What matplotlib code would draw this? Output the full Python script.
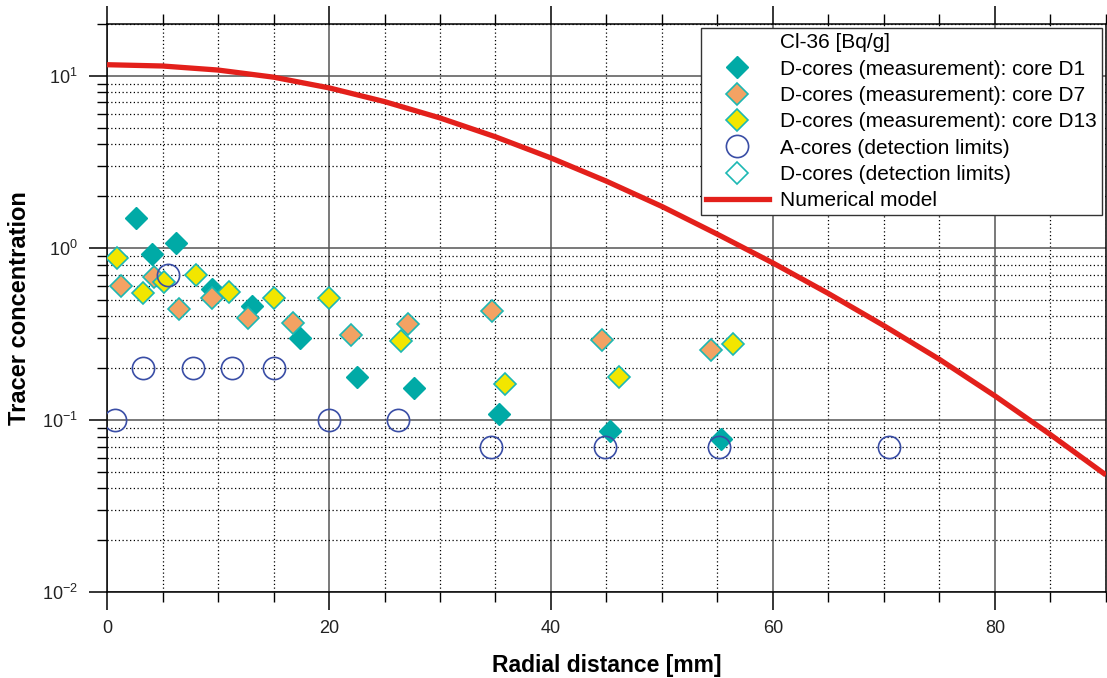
import numpy as np
import matplotlib
matplotlib.use("Agg")
import matplotlib.pyplot as plt
from matplotlib.lines import Line2D
from matplotlib.ticker import LogLocator, MultipleLocator, NullFormatter

plt.rcParams["font.family"] = ["Liberation Sans", "DejaVu Sans"]
plt.rcParams["mathtext.fontset"] = "custom"
plt.rcParams["mathtext.rm"] = "Liberation Sans"
plt.rcParams["mathtext.it"] = "Liberation Sans:italic"
plt.rcParams["mathtext.bf"] = "Liberation Sans:bold"

# core D1 measurements
d1_x = [2.6, 4.05, 6.2, 9.5, 13.1, 17.4, 22.5, 27.7, 35.3, 45.3, 55.3]
d1_y = [1.49, 0.92, 1.07, 0.578, 0.46, 0.30, 0.178, 0.154, 0.108, 0.086, 0.077]

# core D7 measurements
d7_x = [1.26, 4.2, 6.5, 9.5, 12.7, 16.8, 22.0, 27.1, 34.7, 44.6, 54.4]
d7_y = [0.60, 0.68, 0.44, 0.51, 0.39, 0.366, 0.31, 0.36, 0.43, 0.29, 0.255]

# core D13 measurements
d13_x = [0.9, 3.2, 5.1, 8.0, 11.0, 15.0, 20.0, 26.5, 35.9, 46.1, 56.4]
d13_y = [0.875, 0.55, 0.635, 0.70, 0.555, 0.51, 0.51, 0.288, 0.162, 0.178, 0.277]

# A-cores detection limits
acore_x = [0.7, 3.2, 5.5, 7.7, 11.3, 15.0, 20.0, 26.2, 34.6, 44.9, 55.1, 70.5]
acore_y = [0.1, 0.2, 0.7, 0.2, 0.2, 0.2, 0.1, 0.1, 0.07, 0.07, 0.07, 0.07]

# D-cores detection limits
dlim_x = []
dlim_y = []

# numerical model
model_x = [0, 5, 10, 15, 20, 25, 30, 35, 40, 45, 50, 55, 60, 65, 70, 75, 80, 85, 90]
model_y = [11.6, 11.4, 10.8, 9.82, 8.51, 7.08, 5.69, 4.42, 3.33, 2.44, 1.74, 1.20,
           0.817, 0.543, 0.353, 0.225, 0.138, 0.0822, 0.0479]

teal = "#00aaa6"
edge = "#1cb8b3"
orange = "#f3a263"
yellow = "#f2e600"
blue = "#3a4ea6"
red = "#e3201b"

fig = plt.figure(figsize=(11.07, 6.78), dpi=100)
ax = fig.add_axes([0.0967, 0.1268, 0.9023, 0.8378])

ms_d = 11.5
ms_o = 16

ax.plot(d1_x, d1_y, "D", ms=ms_d, mfc=teal, mec=teal, mew=1.0, ls="none", zorder=3)
ax.plot(d7_x, d7_y, "D", ms=ms_d, mfc=orange, mec=edge, mew=1.2, ls="none", zorder=3)
ax.plot(d13_x, d13_y, "D", ms=ms_d, mfc=yellow, mec=edge, mew=1.2, ls="none", zorder=3)
ax.plot(acore_x, acore_y, "o", ms=ms_o, mfc="none", mec=blue, mew=1.2, ls="none", zorder=4)
ax.plot(dlim_x, dlim_y, "D", ms=ms_d, mfc="none", mec=edge, mew=1.2, ls="none", zorder=3)
ax.plot(model_x, model_y, color=red, lw=3.8, zorder=5,
        solid_capstyle="butt", solid_joinstyle="round")

ax.set_yscale("log")
ax.set_xlim(0, 90)
ax.set_ylim(1e-2, 20)

ax.xaxis.set_major_locator(MultipleLocator(20))
ax.xaxis.set_minor_locator(MultipleLocator(5))
ax.yaxis.set_major_locator(LogLocator(base=10))
ax.yaxis.set_minor_locator(LogLocator(base=10, subs=np.arange(2, 10)))
ax.yaxis.set_minor_formatter(NullFormatter())

ax.grid(which="major", color="#555555", lw=1.1, ls="-")
ax.grid(which="minor", color="black", lw=0.9, ls=(0, (1, 2)))
ax.set_axisbelow(True)

ax.tick_params(which="major", length=13, width=1.1, labelsize=13, pad=8,
               top=True, direction="out", colors="black")
ax.tick_params(which="minor", length=7, width=1.0, top=True, direction="out")
ax.tick_params(axis="x", which="major", pad=7)
for tl in ax.get_xticklabels() + ax.get_yticklabels():
    tl.set_color("#222222")

for s in ax.spines.values():
    s.set_linewidth(1.1)

ax.set_xlabel("Radial distance [mm]", fontsize=16.5, fontweight="bold", labelpad=12.5)
ax.set_ylabel("Tracer concentration", fontsize=17, fontweight="bold", labelpad=8)

handles = [
    Line2D([], [], ls="none", marker=None),
    Line2D([], [], marker="D", ms=ms_d, mfc=teal, mec=teal, ls="none"),
    Line2D([], [], marker="D", ms=ms_d, mfc=orange, mec=edge, mew=1.2, ls="none"),
    Line2D([], [], marker="D", ms=ms_d, mfc=yellow, mec=edge, mew=1.2, ls="none"),
    Line2D([], [], marker="o", ms=ms_o, mfc="none", mec=blue, mew=1.2, ls="none"),
    Line2D([], [], marker="D", ms=ms_d, mfc="none", mec=edge, mew=1.2, ls="none"),
    Line2D([], [], color=red, lw=3.8),
]
labels = [
    "Cl-36 [Bq/g]",
    "D-cores (measurement): core D1",
    "D-cores (measurement): core D7",
    "D-cores (measurement): core D13",
    "A-cores (detection limits)",
    "D-cores (detection limits)",
    "Numerical model",
]
leg = ax.legend(handles, labels, loc="upper right", fontsize=15, frameon=True,
                fancybox=False, edgecolor="#333333", framealpha=1,
                handlelength=3.0, handletextpad=0.53, labelspacing=0.35,
                borderpad=0.25, borderaxespad=0.2)
leg.get_frame().set_linewidth(1.0)
leg.set_zorder(10)

fig.savefig("out.png", dpi=100)
